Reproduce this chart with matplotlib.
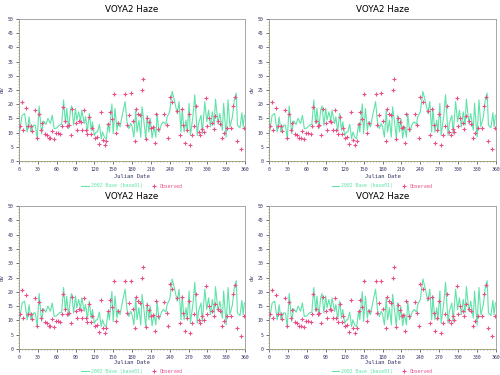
import matplotlib
matplotlib.use("Agg")
import matplotlib.pyplot as plt
from matplotlib.ticker import MultipleLocator

title = "VOYA2 Haze"
xlabel = "Julian Date"
ylabel = "dv"
model_label = "2002 Base (base01)"
obs_label = "Observed"

model_day = [1, 5, 9, 13, 16, 19, 23, 26, 29, 32, 36, 39, 43, 46, 50, 53, 56, 60, 64, 68,
             71, 74, 76, 79, 82, 84, 87, 90, 92, 95, 98, 100, 104, 106, 109, 112, 115, 117,
             120, 123, 125, 128, 131, 133, 136, 139, 142, 144, 148, 150, 153, 156, 158, 161,
             164, 169, 172, 175, 178, 180, 183, 186, 188, 191, 194, 196, 199, 202, 204, 207,
             209, 212, 215, 218, 220, 223, 227, 230, 234, 236, 240, 244, 248, 252, 255, 258,
             260, 263, 266, 268, 271, 273, 277, 280, 284, 286, 290, 292, 296, 299, 302, 305,
             308, 311, 313, 317, 320, 324, 326, 330, 333, 336, 340, 343, 346, 348, 352, 355,
             357, 359]
model_dv = [10.5, 16.1, 16.7, 10.2, 15.5, 10.2, 12.6, 12.6, 7.8, 19.4, 9.6, 14.1, 12.9, 15.0,
            13.2, 16.1, 11.4, 11.6, 12.6, 12.9, 21.5, 13.2, 18.5, 11.4, 17.9, 19.4, 12.6, 18.5,
            14.4, 17.3, 14.1, 17.9, 13.2, 15.6, 10.5, 16.7, 10.8, 13.8, 9.0, 10.2, 10.2, 12.9,
            7.8, 10.2, 8.4, 7.8, 13.2, 10.2, 20.1, 9.6, 18.5, 10.8, 13.8, 12.0, 15.6, 20.9,
            13.8, 11.4, 13.2, 12.2, 8.4, 17.9, 10.2, 14.4, 8.4, 19.1, 13.8, 7.8, 16.1, 10.2,
            15.0, 8.1, 12.2, 8.4, 16.7, 10.2, 12.9, 13.8, 12.9, 15.6, 17.3, 24.5, 20.9, 16.7,
            20.9, 10.2, 18.5, 10.2, 14.4, 10.2, 20.3, 9.0, 15.6, 23.3, 9.0, 13.2, 16.1, 9.6,
            20.9, 13.8, 17.9, 12.0, 17.3, 12.6, 21.8, 13.2, 16.7, 10.8, 20.3, 8.4, 21.5, 12.0,
            15.6, 21.5, 23.9, 12.6, 11.7, 17.0, 12.0, 16.1]

obs_day = [1, 4, 7, 11, 15, 19, 21, 25, 28, 32, 35, 37, 41, 44, 47, 50, 52, 55, 59, 62,
           66, 68, 70, 74, 77, 80, 83, 85, 90, 92, 96, 99, 101, 104, 106, 109, 112, 115, 117,
           121, 124, 127, 130, 134, 137, 139, 142, 145, 148, 151, 155, 158, 169, 172, 175,
           178, 181, 185, 187, 190, 193, 196, 198, 202, 204, 207, 211, 213, 216, 218, 222,
           231, 235, 238, 240, 244, 252, 256, 259, 262, 264, 267, 270, 273, 276, 279, 282,
           286, 289, 292, 294, 298, 300, 303, 307, 310, 313, 317, 320, 324, 326, 331, 338,
           341, 344, 347, 354, 358]
obs_dv = [12.2, 20.6, 11.0, 18.8, 12.2, 12.2, 10.5, 17.9, 8.0, 16.4, 11.0, 13.5, 9.6, 9.2,
          8.1, 8.1, 10.4, 7.8, 9.9, 9.8, 9.6, 12.2, 19.1, 14.1, 12.2, 12.6, 9.2, 18.3, 13.4,
          11.0, 14.1, 13.8, 11.0, 17.9, 10.8, 9.6, 15.6, 9.6, 11.5, 8.1, 8.4, 6.0, 17.3, 7.4,
          5.7, 7.2, 13.2, 17.3, 14.7, 23.7, 9.9, 13.4, 23.7, 12.6, 16.1, 23.9, 14.1, 7.2,
          18.2, 16.7, 16.1, 24.9, 28.7, 7.8, 15.3, 13.8, 11.7, 12.0, 6.2, 16.7, 11.4, 16.5,
          12.6, 8.1, 22.7, 20.9, 17.7, 9.0, 18.2, 12.6, 6.2, 10.8, 16.7, 5.7, 9.0, 12.2, 19.4,
          10.2, 9.0, 11.4, 10.2, 22.1, 12.4, 15.0, 13.4, 11.4, 15.8, 14.1, 13.2, 8.0, 9.8,
          11.7, 11.7, 19.4, 22.5, 7.2, 4.4, 11.7]

line_color = "#5fe3a8"
obs_color = "#e8508a"

fig = plt.figure(figsize=(5, 3.75), dpi=100)

# axes rectangles in figure fractions (left, bottom, width, height)
rects = [
    (19 / 500, 1 - 161 / 375, 226 / 500, 142 / 375),
    (269 / 500, 1 - 161 / 375, 227 / 500, 142 / 375),
    (19 / 500, 1 - 349 / 375, 226 / 500, 143 / 375),
    (269 / 500, 1 - 349 / 375, 227 / 500, 143 / 375),
]

for i, r in enumerate(rects):
    ax = fig.add_axes(r)
    ax.plot(model_day, model_dv, color=line_color, lw=0.8, label=model_label,
            zorder=2)
    ax.plot(obs_day, obs_dv, linestyle="none", marker="+", ms=2.5, mew=0.8,
            color=obs_color, label=obs_label, zorder=3)
    ax.set_xlim(0, 360)
    ax.set_ylim(0, 50)
    ax.xaxis.set_major_locator(MultipleLocator(30))
    ax.xaxis.set_minor_locator(MultipleLocator(5))
    ax.yaxis.set_major_locator(MultipleLocator(5))
    ax.yaxis.set_minor_locator(MultipleLocator(1))
    ax.tick_params(labelsize=3.5, length=2, width=0.5, pad=2, colors="#333366")
    ax.tick_params(which="minor", length=1, width=0.4, colors="#6666aa")
    for lab in ax.get_xticklabels() + ax.get_yticklabels():
        lab.set_family("DejaVu Sans Mono")
    for s in ["top", "right"]:
        ax.spines[s].set_color("#999999")
        ax.spines[s].set_linewidth(0.6)
    for s in ["left", "bottom"]:
        ax.spines[s].set_color("#999966")
        ax.spines[s].set_linewidth(0.6)
    ax.set_title(title, fontsize=6.3, pad=5)
    h_px = r[3] * 375
    below_label = 16 if i < 2 else 14
    below_leg = 25 if i < 2 else 22.5
    ax.set_xlabel(xlabel, fontsize=4, color="#333366", family="DejaVu Sans Mono",
                  va="center")
    ax.xaxis.set_label_coords(0.5, -below_label / h_px)
    ax.set_ylabel(ylabel, fontsize=4, labelpad=2, color="#333366")
    ax.legend(loc="center", bbox_to_anchor=(0.5, -below_leg / h_px), ncol=2,
              frameon=False, labelcolor="linecolor",
              handlelength=1.5, columnspacing=1.5, borderpad=0, handletextpad=0.5,
              prop={"family": "DejaVu Sans Mono", "size": 3.5})

fig.savefig("out.png", dpi=100, facecolor="white")
